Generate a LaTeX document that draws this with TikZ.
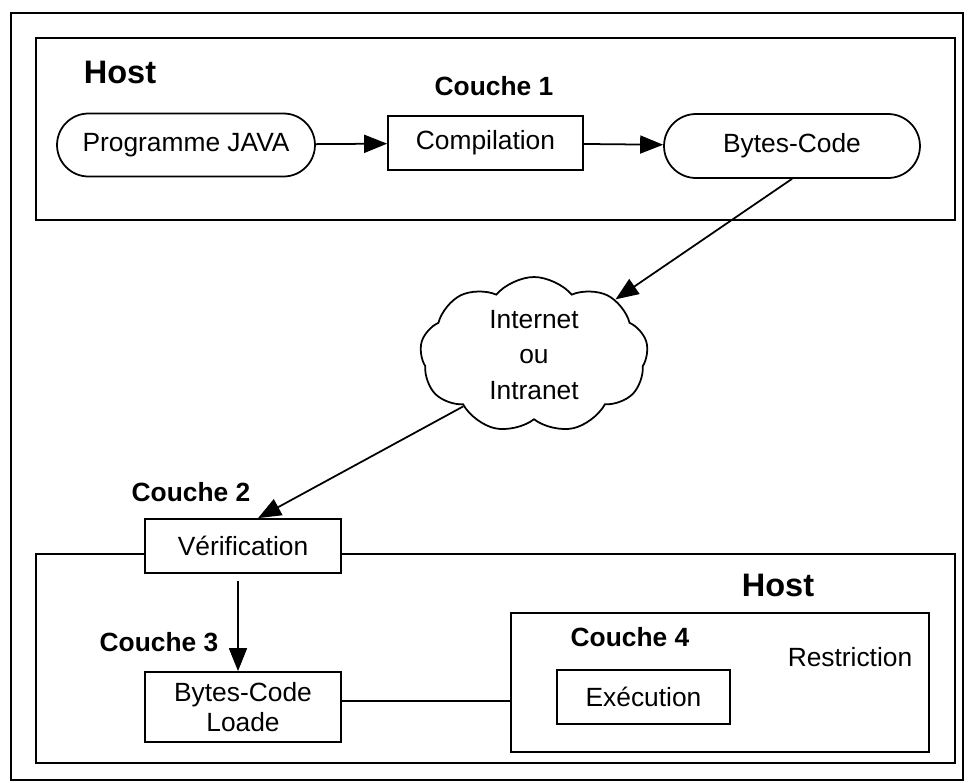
\documentclass[tikz,border=0pt]{standalone}
\usepackage{fontspec}
\setmainfont{Liberation Sans}
\usetikzlibrary{shapes.misc, shapes.symbols, arrows.meta, positioning}
\tikzset{
  layerbox/.style={draw, line width=1pt, fill=white, inner sep=0pt, align=center, font=\fontsize{15}{17}\selectfont},
  progoval/.style={draw, rounded rectangle, line width=1pt, fill=white, inner sep=0pt, font=\fontsize{15}{17}\selectfont},
  netcloud/.style={draw, cloud, cloud puffs=9, cloud puff arc=100, cloud ignores aspect, line width=1pt, fill=white, inner sep=0pt, align=center, font=\fontsize{15}{20}\selectfont},
  layerlabel/.style={font=\bfseries\fontsize{15}{17}\selectfont},
  hostlabel/.style={font=\bfseries\fontsize{18.5}{21}\selectfont},
  flow/.style={-{Triangle[length=0.46cm,width=0.36cm]}, line width=1pt},
  frame/.style={line width=1pt}
}

\begin{document}
\begin{tikzpicture}[x=0.02cm, y=-0.02cm]
  \useasboundingbox (0,0) rectangle (968,782);

  % Outer frame and hosts
  \draw[frame] (11,13) rectangle (963,780);
  \draw[frame] (36,38) rectangle (955,220);
  \draw[frame] (36,554) rectangle (955,763);
  \node[hostlabel] (host1) at (120,72) {Host};
  \node[hostlabel] (host2) at (778,585) {Host};

  % Couche 1
  \node[layerlabel] (c1) at (494,86) {Couche 1};
  \node[progoval, minimum width=5.16cm, minimum height=1.26cm] (prog) at (186,145) {Programme JAVA};
  \node[layerbox, minimum width=3.9cm, minimum height=1.08cm] (compil) at (485.5,143) {Compilation};
  \node[progoval, minimum width=5.12cm, minimum height=1.28cm] (bytes) at (792,146) {Bytes-Code};
  \draw[flow] (prog) -- (compil);
  \draw[flow] (compil) -- (bytes);

  % Internet
  \node[netcloud, minimum width=4.56cm, minimum height=3.12cm] (net) at (534,355) {Internet\\ou\\Intranet};
  \draw[flow] (bytes.south) -- (net);

  % Couche 2
  \node[layerlabel] (c2) at (191,492) {Couche 2};
  \node[layerbox, minimum width=3.92cm, minimum height=1.08cm] (verif) at (243,546) {V\'erification};
  \draw[flow] (net.216) -- ([xshift=0.3cm]verif.north);

  % Couche 3
  \node[layerlabel] (c3) at (159,642) {Couche 3};
  \node[layerbox, minimum width=3.92cm, minimum height=1.4cm] (loader) at (243,707) {Bytes-Code\\Loade};
  \draw[flow, shorten <=0.14cm] ([xshift=-0.1cm]verif.south) -- ([xshift=-0.1cm]loader.north);

  % Couche 4
  \node[layerbox, minimum width=8.36cm, minimum height=2.78cm] (c4box) at (720,682.5) {};
  \node[layerlabel] (c4) at (630,637) {Couche 4};
  \node[font=\fontsize{15}{17}\selectfont] (restr) at (850,657) {Restriction};
  \node[layerbox, minimum width=3.46cm, minimum height=1.08cm] (exec) at (643.5,697) {Ex\'ecution};
  \draw[frame] ([yshift=0.12cm]loader.east) -- ([yshift=0.12cm]loader.east -| c4box.west);
\end{tikzpicture}
\end{document}
